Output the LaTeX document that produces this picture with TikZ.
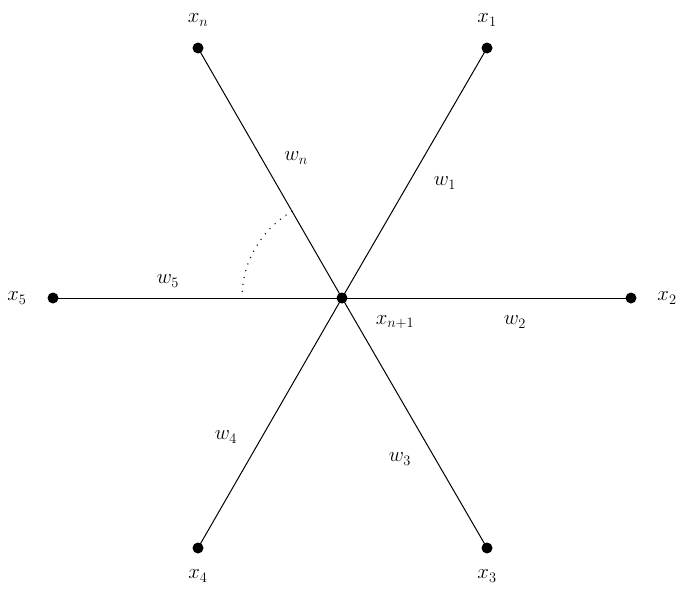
\documentclass[tikz,border=0pt]{standalone}
\begin{document}
\begin{tikzpicture}[x=1pt,y=-1pt,
  dot/.style={circle,fill=black,inner sep=0pt,minimum size=11pt},
  lbl/.style={font=\huge},
  edge/.style={line width=1pt}]
\useasboundingbox (0,0) rectangle (685,589);
\node[dot] (c) at (342,298) {};
\node[dot] (x1) at (487,48) {};
\node[dot] (x2) at (631,298) {};
\node[dot] (x3) at (487,548) {};
\node[dot] (x4) at (198,548) {};
\node[dot] (x5) at (53,298) {};
\node[dot] (xn) at (198,48) {};
\foreach \p in {x1,x2,x3,x4,x5,xn} \draw[edge] (c.center) -- (\p.center);
\draw[line width=1.5pt,line cap=round,dash pattern=on 0pt off 7pt] (292,211.4) arc[start angle=-120,end angle=-180,radius=100];
\node[lbl] (lxn) at (198,20) {$x_n$};
\node[lbl] (lx1) at (487,20) {$x_1$};
\node[lbl] (lx2) at (667,298) {$x_2$};
\node[lbl] (lx5) at (17,298) {$x_5$};
\node[lbl] (lx4) at (198,576) {$x_4$};
\node[lbl] (lx3) at (487,576) {$x_3$};
\node[lbl] (lc) at (395,322) {$x_{n+1}$};
\node[lbl] (wn) at (296,158) {$w_n$};
\node[lbl] (w1) at (445,183) {$w_1$};
\node[lbl] (w5) at (168,281) {$w_5$};
\node[lbl] (w2) at (515,322) {$w_2$};
\node[lbl] (w4) at (226,437) {$w_4$};
\node[lbl] (w3) at (400,459) {$w_3$};
\end{tikzpicture}
\end{document}
